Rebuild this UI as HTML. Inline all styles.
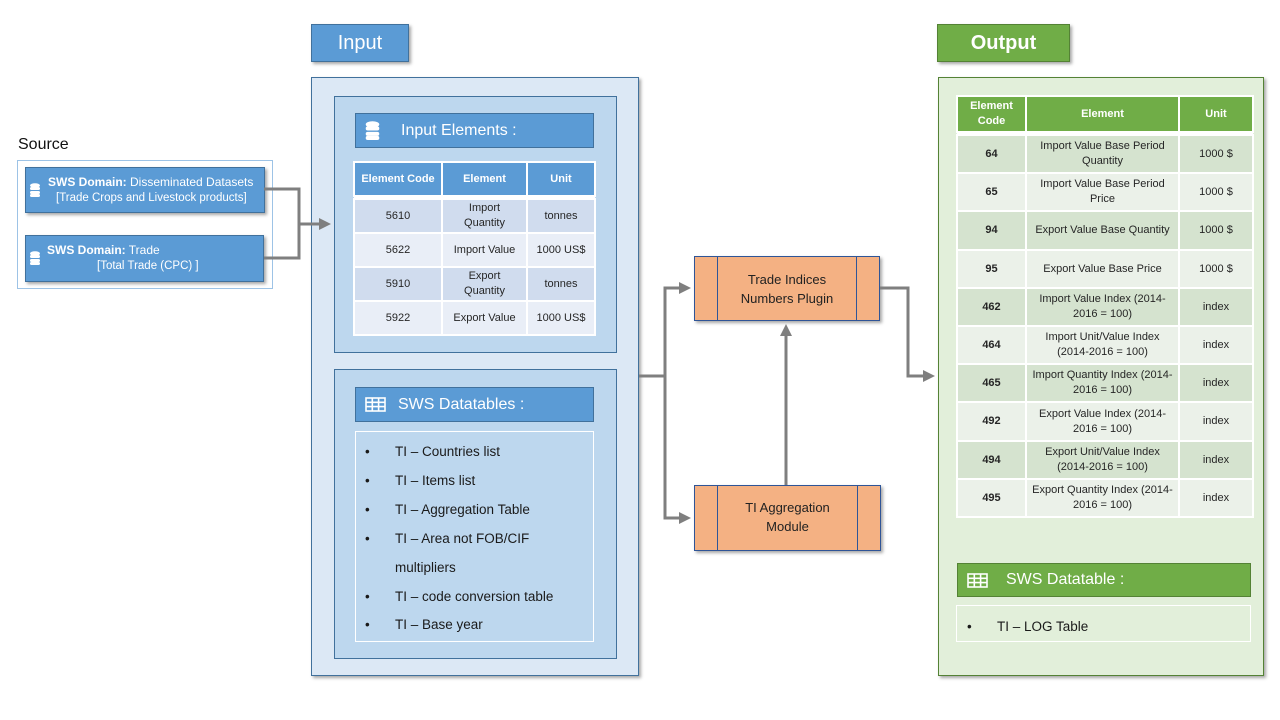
<!DOCTYPE html>
<html><head><meta charset="utf-8"><style>
*{margin:0;padding:0;box-sizing:border-box}
body{width:1280px;height:720px;background:#fff;position:relative;overflow:hidden;font-family:"Liberation Sans",sans-serif;color:#262626}
.a{position:absolute}
.sh{box-shadow:2px 2px 3px rgba(0,0,0,.35)}
table{border-collapse:collapse;table-layout:fixed;position:absolute}
td{border:2px solid #fff;text-align:center;vertical-align:middle;font-size:11px;line-height:15px;padding:0 2px}
th{border:2px solid #fff;color:#fff;font-size:11px;font-weight:bold;line-height:15px}
.ob td:first-child{font-weight:bold}
.li{position:absolute;left:365px;font-size:13.5px;color:#1a1a1a}
.li b{font-weight:normal;position:absolute;left:0}
.li span{position:absolute;left:30px;white-space:nowrap}
</style></head><body>

<div class="a" style="left:18px;top:136px;font-size:16px;color:#111">Source</div>
<div class="a" style="left:17px;top:160px;width:256px;height:129px;border:1px solid #9dc3e6"></div>
<div class="a sh" style="left:25px;top:167px;width:240px;height:46px;background:#5b9bd5;border:1px solid #41719c;color:#fff;font-size:12px">
<svg class="a" style="left:4px;top:15px" width="10" height="14" viewBox="0 0 10 14"><g fill="#fff"><ellipse cx="5" cy="2.5" rx="5" ry="2.3"/><rect x="0" y="4" width="10" height="3" rx="1.5"/><rect x="0" y="8" width="10" height="3" rx="1.5"/><rect x="0" y="11" width="10" height="3" rx="1.5"/></g></svg>
<div class="a" style="left:22px;top:7px;white-space:nowrap"><b>SWS Domain:</b> Disseminated Datasets</div>
<div class="a" style="left:30px;top:24px;white-space:nowrap;font-size:11.5px">[Trade Crops and Livestock products]</div>
</div>
<div class="a sh" style="left:25px;top:235px;width:239px;height:47px;background:#5b9bd5;border:1px solid #41719c;color:#fff;font-size:12px">
<svg class="a" style="left:4px;top:15px" width="10" height="14" viewBox="0 0 10 14"><g fill="#fff"><ellipse cx="5" cy="2.5" rx="5" ry="2.3"/><rect x="0" y="4" width="10" height="3" rx="1.5"/><rect x="0" y="8" width="10" height="3" rx="1.5"/><rect x="0" y="11" width="10" height="3" rx="1.5"/></g></svg>
<div class="a" style="left:21px;top:7px;white-space:nowrap"><b>SWS Domain:</b> Trade</div>
<div class="a" style="left:71px;top:24px;white-space:nowrap;font-size:11.5px">[Total Trade (CPC) ]</div>
</div>

<div class="a sh" style="left:311px;top:24px;width:98px;height:38px;background:#5b9bd5;border:1px solid #41719c;color:#fff;font-size:20px;text-align:center;line-height:36px">Input</div>
<div class="a sh" style="left:311px;top:77px;width:328px;height:599px;background:#dce8f5;border:1px solid #41719c"></div>
<div class="a" style="left:334px;top:96px;width:283px;height:257px;background:#bdd7ee;border:1px solid #41719c"></div>
<div class="a" style="left:355px;top:113px;width:239px;height:35px;background:#5b9bd5;border:1px solid #41719c;color:#fff;font-size:16px;line-height:33px">
<svg class="a" style="left:9px;top:7px" width="15" height="19" viewBox="0 0 10 14"><g fill="#fff"><ellipse cx="5" cy="2.5" rx="5" ry="2.3"/><rect x="0" y="4" width="10" height="3" rx="1.5"/><rect x="0" y="8" width="10" height="3" rx="1.5"/><rect x="0" y="11" width="10" height="3" rx="1.5"/></g></svg>
<span class="a" style="left:45px">Input Elements :</span></div>
<table style="left:353px;top:161px;width:241px">
<colgroup><col style="width:88px"><col style="width:85px"><col style="width:68px"></colgroup>
<tr style="height:34px;background:#5b9bd5"><th>Element Code</th><th>Element</th><th>Unit</th></tr>
<tr style="height:3px;background:#fff"><td colspan="3" style="border:0;padding:0;line-height:0;height:3px"></td></tr>
<tr style="height:34px;background:#d0dcee"><td>5610</td><td>Import<br>Quantity</td><td>tonnes</td></tr>
<tr style="height:34px;background:#e9eef7"><td>5622</td><td>Import Value</td><td>1000 US$</td></tr>
<tr style="height:34px;background:#d0dcee"><td>5910</td><td>Export<br>Quantity</td><td>tonnes</td></tr>
<tr style="height:34px;background:#e9eef7"><td>5922</td><td>Export Value</td><td>1000 US$</td></tr>
</table>

<div class="a" style="left:334px;top:369px;width:283px;height:290px;background:#bdd7ee;border:1px solid #41719c"></div>
<div class="a" style="left:355px;top:387px;width:239px;height:35px;background:#5b9bd5;border:1px solid #41719c;color:#fff;font-size:16px;line-height:33px">
<svg class="a" style="left:9px;top:9px" width="21" height="15" viewBox="0 0 21 15"><g fill="none" stroke="#fff" stroke-width="1.6"><rect x="1" y="1" width="19" height="13"/><line x1="1" y1="5.3" x2="20" y2="5.3"/><line x1="1" y1="9.6" x2="20" y2="9.6"/><line x1="7.3" y1="1" x2="7.3" y2="14"/><line x1="13.6" y1="1" x2="13.6" y2="14"/></g></svg>
<span class="a" style="left:42px">SWS Datatables :</span></div>
<div class="a" style="left:355px;top:431px;width:239px;height:211px;border:1px solid #fff"></div>
<div class="li" style="top:444px"><b>•</b><span>TI – Countries list</span></div>
<div class="li" style="top:473px"><b>•</b><span>TI – Items list</span></div>
<div class="li" style="top:502px"><b>•</b><span>TI – Aggregation Table</span></div>
<div class="li" style="top:531px"><b>•</b><span>TI – Area not FOB/CIF</span></div>
<div class="li" style="top:560px"><span>multipliers</span></div>
<div class="li" style="top:589px"><b>•</b><span>TI – code conversion table</span></div>
<div class="li" style="top:617px"><b>•</b><span>TI – Base year</span></div>

<div class="a sh" style="left:694px;top:256px;width:186px;height:65px;background:#f4b183;border:1px solid #2f5597">
<div class="a" style="left:22px;top:0;width:1px;height:63px;background:#2f5597"></div>
<div class="a" style="left:161px;top:0;width:1px;height:63px;background:#2f5597"></div>
<div class="a" style="left:0;top:13px;width:184px;text-align:center;font-size:13px;line-height:19px;color:#222">Trade Indices<br>Numbers Plugin</div></div>
<div class="a sh" style="left:694px;top:485px;width:187px;height:66px;background:#f4b183;border:1px solid #2f5597">
<div class="a" style="left:22px;top:0;width:1px;height:64px;background:#2f5597"></div>
<div class="a" style="left:162px;top:0;width:1px;height:64px;background:#2f5597"></div>
<div class="a" style="left:0;top:12px;width:185px;text-align:center;font-size:13px;line-height:19px;color:#222">TI Aggregation<br>Module</div></div>

<div class="a sh" style="left:937px;top:24px;width:133px;height:38px;background:#70ad47;border:1px solid #548235;color:#fff;font-size:20px;font-weight:bold;text-align:center;line-height:36px">Output</div>
<div class="a sh" style="left:938px;top:77px;width:326px;height:599px;background:#e2efda;border:1px solid #548235"></div>
<table class="ob" style="left:956px;top:95px;width:296px">
<colgroup><col style="width:69px"><col style="width:153px"><col style="width:74px"></colgroup>
<tr style="height:36px;background:#70ad47"><th>Element<br>Code</th><th>Element</th><th>Unit</th></tr>
<tr style="height:3px;background:#fff"><td colspan="3" style="border:0;padding:0;line-height:0;height:3px"></td></tr>
<tr style="height:38px;background:#d5e3cf"><td>64</td><td>Import Value Base Period Quantity</td><td>1000 $</td></tr>
<tr style="height:38px;background:#ebf1e9"><td>65</td><td>Import Value Base Period Price</td><td>1000 $</td></tr>
<tr style="height:39px;background:#d5e3cf"><td>94</td><td style="padding:0;white-space:nowrap">Export Value Base Quantity</td><td>1000 $</td></tr>
<tr style="height:38px;background:#ebf1e9"><td>95</td><td>Export Value Base Price</td><td>1000 $</td></tr>
<tr style="height:38px;background:#d5e3cf"><td>462</td><td>Import Value Index (2014-2016 = 100)</td><td>index</td></tr>
<tr style="height:38px;background:#ebf1e9"><td>464</td><td>Import Unit/Value Index (2014-2016 = 100)</td><td>index</td></tr>
<tr style="height:38px;background:#d5e3cf"><td>465</td><td>Import Quantity Index (2014-2016 = 100)</td><td>index</td></tr>
<tr style="height:39px;background:#ebf1e9"><td>492</td><td>Export Value Index (2014-2016 = 100)</td><td>index</td></tr>
<tr style="height:38px;background:#d5e3cf"><td>494</td><td>Export Unit/Value Index (2014-2016 = 100)</td><td>index</td></tr>
<tr style="height:38px;background:#ebf1e9"><td>495</td><td>Export Quantity Index (2014-2016 = 100)</td><td>index</td></tr>
</table>
<div class="a" style="left:957px;top:563px;width:294px;height:34px;background:#70ad47;border:1px solid #548235;color:#fff;font-size:16px;line-height:32px">
<svg class="a" style="left:9px;top:9px" width="21" height="15" viewBox="0 0 21 15"><g fill="none" stroke="#fff" stroke-width="1.6"><rect x="1" y="1" width="19" height="13"/><line x1="1" y1="5.3" x2="20" y2="5.3"/><line x1="1" y1="9.6" x2="20" y2="9.6"/><line x1="7.3" y1="1" x2="7.3" y2="14"/><line x1="13.6" y1="1" x2="13.6" y2="14"/></g></svg>
<span class="a" style="left:48px">SWS Datatable :</span></div>
<div class="a" style="left:956px;top:605px;width:295px;height:37px;border:1px solid #fff"></div>
<div class="li" style="left:967px;top:619px"><b>•</b><span>TI – LOG Table</span></div>

<svg class="a" style="left:0;top:0" width="1280" height="720">
<defs><marker id="ar" markerWidth="4" markerHeight="4" refX="3" refY="2" orient="auto" markerUnits="strokeWidth"><path d="M0,0 L4,2 L0,4 z" fill="#7f7f7f"/></marker></defs>
<g fill="none" stroke="#7f7f7f" stroke-width="3">
<polyline points="264,189 299,189 299,258 264,258"/>
<line x1="299" y1="224" x2="328" y2="224" marker-end="url(#ar)"/>
<line x1="639" y1="376" x2="665" y2="376"/>
<polyline points="688,288 665,288 665,518 688,518" />
<line x1="665" y1="288" x2="688" y2="288" marker-end="url(#ar)"/>
<line x1="665" y1="518" x2="688" y2="518" marker-end="url(#ar)"/>
<line x1="786" y1="485" x2="786" y2="327" marker-end="url(#ar)"/>
<polyline points="880,288 908,288 908,376 932,376" marker-end="url(#ar)"/>
</g></svg>
</body></html>
